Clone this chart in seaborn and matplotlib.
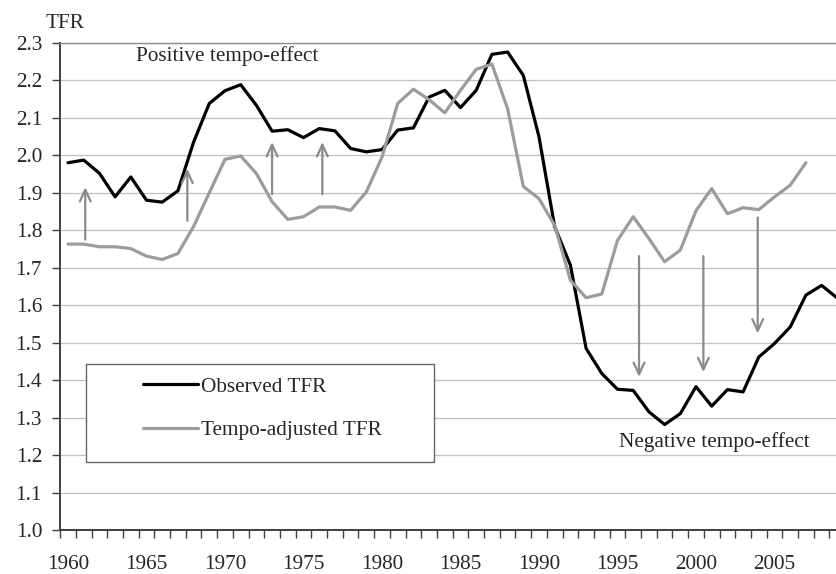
import numpy as np
import pandas as pd
import matplotlib
matplotlib.use("Agg")
import matplotlib.pyplot as plt
from matplotlib.patches import Rectangle
from matplotlib.lines import Line2D
from matplotlib.ticker import FixedLocator, FormatStrFormatter
import seaborn as sns

nan = np.nan

# ---------------- data ----------------
years = list(range(1960, 2010))
observed_tfr = [1.980, 1.987, 1.952, 1.889, 1.942, 1.880, 1.875, 1.905, 2.035, 2.138,
                2.172, 2.188, 2.133, 2.064, 2.068, 2.047, 2.071, 2.065, 2.018, 2.009,
                2.015, 2.067, 2.073, 2.155, 2.173, 2.127, 2.173, 2.269, 2.275, 2.213,
                2.049, 1.809, 1.707, 1.485, 1.418, 1.376, 1.373, 1.316, 1.282, 1.311,
                1.383, 1.331, 1.375, 1.369, 1.462, 1.498, 1.542, 1.627, 1.653, 1.619]
tempo_adjusted_tfr = [1.763, 1.763, 1.756, 1.756, 1.751, 1.731, 1.722, 1.738, 1.810, 1.900,
                      1.989, 1.998, 1.951, 1.876, 1.829, 1.836, 1.862, 1.862, 1.853, 1.902,
                      1.995, 2.138, 2.176, 2.148, 2.113, 2.173, 2.229, 2.243, 2.124, 1.917,
                      1.884, 1.813, 1.667, 1.620, 1.630, 1.773, 1.836, 1.778, 1.716, 1.747,
                      1.852, 1.911, 1.844, 1.860, 1.855, 1.889, 1.920, 1.980, nan, nan]
series_names = ["Observed TFR", "Tempo-adjusted TFR"]

# annotation arrows (tempo effect)
arrow_years = [1961.1, 1967.6, 1973.0, 1976.2, 1996.37, 2000.47, 2003.93]
arrow_from = [1.775, 1.825, 1.896, 1.896, 1.731, 1.731, 1.834]
arrow_to = [1.915, 1.964, 2.035, 2.035, 1.409, 1.422, 1.525]

y_ticks = [1.0, 1.1, 1.2, 1.3, 1.4, 1.5, 1.6, 1.7, 1.8, 1.9, 2.0, 2.1, 2.2, 2.3]
x_labels = [1960, 1965, 1970, 1975, 1980, 1985, 1990, 1995, 2000, 2005]

# ---------------- style ----------------
sns.set_style("white")
plt.rcParams["font.family"] = ["Liberation Serif", "DejaVu Serif"]
FS = 15.3
W, H = 837, 574

df = pd.DataFrame({
    "year": years * 2,
    "TFR": observed_tfr + tempo_adjusted_tfr,
    "series": [series_names[0]] * len(years) + [series_names[1]] * len(years),
}).dropna()

fig = plt.figure(figsize=(W / 100, H / 100), dpi=100)
ax_left, ax_right, ax_top, ax_bottom = 60.15, 837, 42.7, 530.3
ax = fig.add_axes([ax_left / W, 1 - ax_bottom / H, (ax_right - ax_left) / W, (ax_bottom - ax_top) / H])

palette = {series_names[0]: "#000000", series_names[1]: "#9c9c9c"}
sns.lineplot(data=df, x="year", y="TFR", hue="series", palette=palette,
             linewidth=2.3, errorbar=None, ax=ax, legend=False, zorder=3)

px_per_year = 15.7
ax.set_xlim(1959.5, 1959.5 + (ax_right - ax_left) / px_per_year)
ax.set_ylim(1.0, 2.3)

# y axis
ax.yaxis.set_major_locator(FixedLocator(y_ticks))
ax.yaxis.set_major_formatter(FormatStrFormatter("%.1f"))
ax.tick_params(axis="y", which="major", direction="out", length=6, width=1,
               color="#404040", pad=7.0, labelsize=FS, left=True)
ax.yaxis.grid(True, color="#c0c0c0", linewidth=0.9)
ax.xaxis.grid(False)

# x axis (category-like: ticks at boundaries, labels at centres)
ax.xaxis.set_major_locator(FixedLocator(x_labels))
ax.xaxis.set_minor_locator(FixedLocator(np.arange(1959.5, 2010, 1)))
ax.tick_params(axis="x", which="major", length=0, pad=18, labelsize=FS, bottom=True)
ax.tick_params(axis="x", which="minor", direction="out", length=5.5, width=1,
               color="#404040", bottom=True)

ax.set_xlabel("")
ax.set_ylabel("")

for s in ["left", "bottom"]:
    ax.spines[s].set_color("#404040")
    ax.spines[s].set_linewidth(1.4)
ax.spines["top"].set_color("#8c8c8c")
ax.spines["top"].set_linewidth(1.0)
ax.spines["right"].set_visible(False)

# arrows
for xa, y0, y1 in zip(arrow_years, arrow_from, arrow_to):
    ax.annotate("", xy=(xa, y1), xytext=(xa, y0),
                arrowprops=dict(arrowstyle="->,head_length=0.6,head_width=0.28",
                                color="#8a8a8a", lw=1.6, shrinkA=0, shrinkB=0,
                                mutation_scale=14),
                zorder=4)

# legend box
bx = lambda px: (px - ax_left) / (ax_right - ax_left)
by = lambda py: (ax_bottom - py) / (ax_bottom - ax_top)
ax.add_patch(Rectangle((bx(86), by(461.7)), bx(434) - bx(86), by(364.3) - by(461.7),
                       transform=ax.transAxes, facecolor="white", edgecolor="#666666",
                       linewidth=1.0, zorder=5))
handles = [Line2D([], [], color=palette[n], linewidth=2.3) for n in series_names]
leg = ax.legend(handles, series_names, loc="upper left",
                bbox_to_anchor=(bx(143), by(377)), frameon=False, borderpad=0,
                borderaxespad=0, handlelength=2.6, handletextpad=0.15,
                labelspacing=1.1, fontsize=FS)
leg.set_zorder(6)

# texts
fx = lambda px: px / W
fy = lambda py: 1 - py / H
fig.text(fx(46), fy(28.3), "TFR", fontsize=FS, va="baseline", ha="left")
fig.text(fx(136), fy(61), "Positive tempo-effect", fontsize=FS, va="baseline", ha="left")
fig.text(fx(619), fy(447.5), "Negative tempo-effect", fontsize=FS, va="baseline", ha="left")

fig.savefig("out.png", dpi=100)
